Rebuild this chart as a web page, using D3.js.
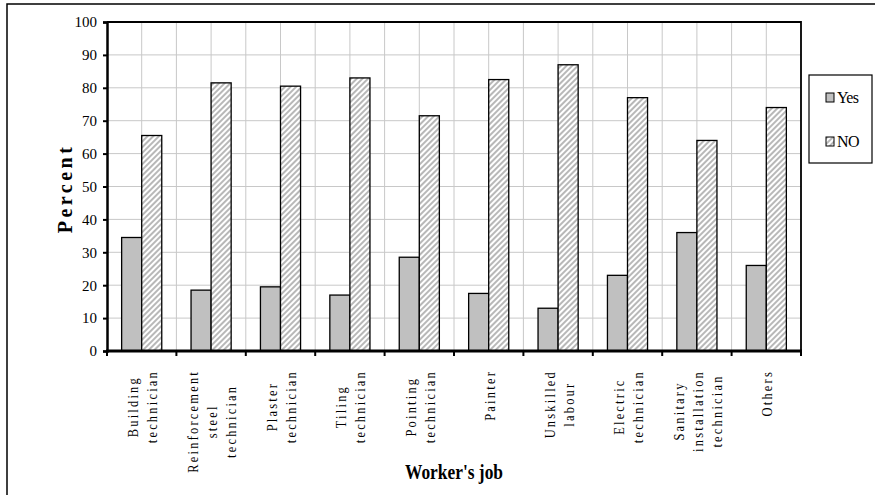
<!DOCTYPE html>
<html lang="en">
<head>
  <meta charset="UTF-8">
  <title>Worker's job</title>
  <script src="https://d3js.org/d3.v7.min.js"></script>
  <style>
    body {
      margin: 0;
      padding: 0;
      background: #fff;
    }
    svg {
      display: block;
    }
    svg text {
      font-family: "Liberation Serif", Tinos, "Times New Roman", Times, serif;
    }
    .grid-line {
      stroke: #c8c8c8;
      stroke-width: 1;
    }
  </style>
</head>
<body>
  <svg id="chart" width="875" height="495"></svg>

  <script>
    // 数据
    const catLabels = [
      ["Building", "technician"],
      ["Reinforcement", "steel", "technician"],
      ["Plaster", "technician"],
      ["Tiling", "technician"],
      ["Pointing", "technician"],
      ["Painter"],
      ["Unskilled", "labour"],
      ["Electric", "technician"],
      ["Sanitary", "installation", "technician"],
      ["Others"]
    ];
    const categories = catLabels.map(d => d.join(" "));
    const seriesNames = ["Yes", "NO"];
    const yesValues = [34.5, 18.5, 19.5, 17, 28.5, 17.5, 13, 23, 36, 26];
    const noValues = [65.5, 81.5, 80.5, 83, 71.5, 82.5, 87, 77, 64, 74];
    const yTicks = [0, 10, 20, 30, 40, 50, 60, 70, 80, 90, 100];

    const width = 875;
    const height = 495;
    const margin = { top: 22, right: 74, bottom: 144, left: 107 };

    const svg = d3.select("#chart");

    // 斜线填充
    const defs = svg.append("defs");
    const pat = defs.append("pattern")
      .attr("id", "hatch")
      .attr("patternUnits", "userSpaceOnUse")
      .attr("width", 4)
      .attr("height", 4)
      .attr("patternTransform", "rotate(45)");
    pat.append("rect").attr("width", 4).attr("height", 4).attr("fill", "#fff");
    pat.append("line")
      .attr("x1", 1).attr("y1", 0).attr("x2", 1).attr("y2", 4)
      .attr("stroke", "#9a9a9a")
      .attr("stroke-width", 1.4);

    const colors = { "Yes": "#c0c0c0", "NO": "url(#hatch)" };

    // 外框
    svg.append("rect")
      .attr("x", 7).attr("y", 4)
      .attr("width", 900).attr("height", 520)
      .attr("fill", "#fff")
      .attr("stroke", "#000")
      .attr("stroke-width", 1.5);

    const x = d3.scaleBand()
      .domain(categories)
      .range([margin.left, width - margin.right])
      .padding(0);

    const xSub = d3.scaleBand()
      .domain(seriesNames)
      .range([0, x.bandwidth()])
      .paddingInner(0)
      .paddingOuter(0.73);

    const y = d3.scaleLinear()
      .domain([0, 100])
      .range([height - margin.bottom, margin.top]);

    const plotLeft = margin.left;
    const plotRight = width - margin.right;
    const plotTop = margin.top;
    const plotBottom = height - margin.bottom;

    // 网格线
    svg.append("g")
      .selectAll("line")
      .data(yTicks.slice(1, -1))
      .join("line")
      .attr("class", "grid-line")
      .attr("x1", plotLeft).attr("x2", plotRight)
      .attr("y1", d => y(d)).attr("y2", d => y(d));

    const vGrid = [];
    categories.forEach((c, i) => {
      if (i > 0) vGrid.push(x(c));
      vGrid.push(x(c) + x.bandwidth() / 2);
    });
    svg.append("g")
      .selectAll("line")
      .data(vGrid)
      .join("line")
      .attr("class", "grid-line")
      .attr("x1", d => d).attr("x2", d => d)
      .attr("y1", plotTop).attr("y2", plotBottom);

    // 柱子
    const rows = categories.map((c, i) => ({ cat: c, Yes: yesValues[i], NO: noValues[i] }));

    svg.append("g")
      .selectAll("g")
      .data(rows)
      .join("g")
      .attr("transform", d => `translate(${x(d.cat)},0)`)
      .selectAll("rect")
      .data(d => seriesNames.map(k => ({ key: k, value: d[k] })))
      .join("rect")
      .attr("x", d => xSub(d.key))
      .attr("width", xSub.bandwidth())
      .attr("y", d => y(d.value))
      .attr("height", d => y(0) - y(d.value))
      .attr("fill", d => colors[d.key])
      .attr("stroke", "#000")
      .attr("stroke-width", 1.3);

    // 图表边框 (上、右)
    svg.append("path")
      .attr("d", `M${plotLeft},${plotTop}H${plotRight}V${plotBottom}`)
      .attr("fill", "none")
      .attr("stroke", "#000")
      .attr("stroke-width", 1.8);

    // Y轴
    const yAxis = svg.append("g")
      .attr("transform", `translate(${plotLeft},0)`)
      .call(d3.axisLeft(y).tickValues(yTicks).tickSize(4).tickPadding(6));
    yAxis.attr("font-family", null);
    yAxis.select(".domain").attr("stroke", "#000").attr("stroke-width", 2.5);
    yAxis.selectAll(".tick line").attr("stroke", "#000").attr("stroke-width", 2);
    yAxis.selectAll(".tick text")
      .attr("font-size", 15)
      .attr("fill", "#000");

    // X轴
    const xTickPos = categories.map(c => x(c)).concat([plotRight]);
    const xAxisG = svg.append("g");
    xAxisG.append("line")
      .attr("x1", plotLeft - 1).attr("x2", plotRight + 1)
      .attr("y1", plotBottom).attr("y2", plotBottom)
      .attr("stroke", "#000")
      .attr("stroke-width", 3);
    xAxisG.selectAll(".xtick")
      .data(xTickPos)
      .join("line")
      .attr("class", "xtick")
      .attr("x1", d => d).attr("x2", d => d)
      .attr("y1", plotBottom).attr("y2", plotBottom + 5)
      .attr("stroke", "#000")
      .attr("stroke-width", 2);

    // 类别标签 (竖排, 字形略压缩)
    const labelTop = plotBottom + 19;
    const lineGap = 19;
    const squeeze = 0.8;
    const labelG = svg.append("g")
      .selectAll("g")
      .data(catLabels)
      .join("g")
      .attr("transform", (d, i) => `translate(${x(categories[i]) + x.bandwidth() / 2},${labelTop}) rotate(-90) scale(${squeeze},1)`);

    labelG.each(function(lines) {
      const g = d3.select(this);
      const texts = g.selectAll("text")
        .data(lines)
        .join("text")
        .attr("y", (d, i) => (i - (lines.length - 1) / 2) * lineGap + 6)
        .attr("text-anchor", "middle")
        .attr("font-size", 15.5)
        .attr("letter-spacing", 2.8)
        .attr("fill", "#000")
        .text(d => d);
      let maxLen = 0;
      texts.each(function() {
        maxLen = Math.max(maxLen, this.getComputedTextLength());
      });
      texts.attr("x", -maxLen / 2);
    });

    // 轴标题
    svg.append("text")
      .attr("transform", `translate(72,${(plotTop + plotBottom) / 2 + 2}) rotate(-90)`)
      .attr("text-anchor", "middle")
      .attr("font-size", 20)
      .attr("font-weight", "bold")
      .attr("letter-spacing", 3.5)
      .text("Percent");

    svg.append("text")
      .attr("x", 454)
      .attr("y", 479)
      .attr("text-anchor", "middle")
      .attr("font-size", 21)
      .attr("font-weight", "bold")
      .attr("textLength", 98)
      .attr("lengthAdjust", "spacingAndGlyphs")
      .text("Worker's job");

    // 图例
    const legend = svg.append("g")
      .attr("transform", "translate(809,75)");
    legend.append("rect")
      .attr("width", 63)
      .attr("height", 88)
      .attr("fill", "#fff")
      .attr("stroke", "#000")
      .attr("stroke-width", 1.2);

    seriesNames.forEach((name, i) => {
      const row = legend.append("g")
        .attr("transform", `translate(17,${18 + i * 44})`);
      row.append("rect")
        .attr("width", 8)
        .attr("height", 9)
        .attr("fill", colors[name])
        .attr("stroke", "#000")
        .attr("stroke-width", 1);
      row.append("text")
        .attr("x", 11)
        .attr("y", 10)
        .attr("font-size", 16)
        .attr("letter-spacing", -0.6)
        .text(name);
    });
  </script>
</body>
</html>
